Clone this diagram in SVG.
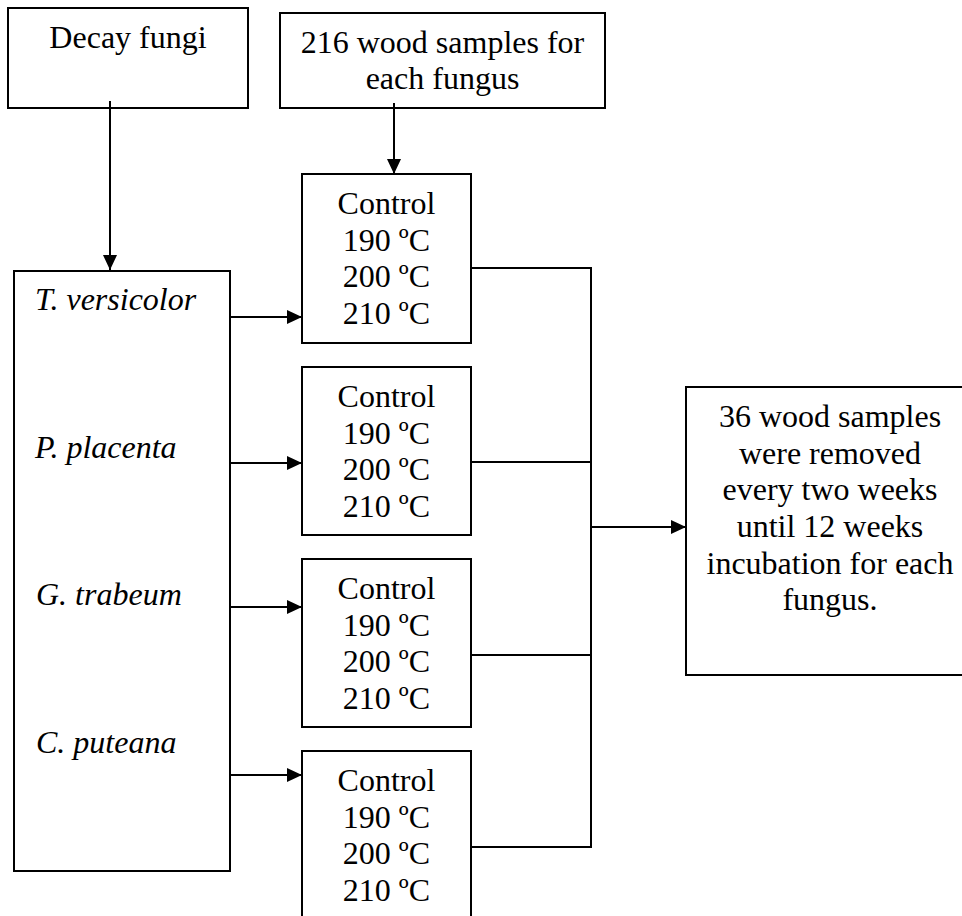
<svg xmlns="http://www.w3.org/2000/svg" width="962" height="916" viewBox="0 0 962 916">
<style>
.box{fill:#fff;stroke:#000;stroke-width:2}
.t{font-family:"Liberation Serif","Times New Roman",serif;font-size:32px;fill:#000}
.c{text-anchor:middle}
.i{font-style:italic}
.ln{fill:none;stroke:#000;stroke-width:2}
</style>
<defs>
<marker id="ah" markerWidth="15" markerHeight="14" refX="15" refY="7" orient="auto" markerUnits="userSpaceOnUse">
<path d="M0,0 L15,7 L0,14 Z" fill="#000"/>
</marker>
</defs>
<rect width="962" height="916" fill="#fff"/>
<g id="decay">
<rect class="box" x="8" y="8" width="240" height="100"/>
<text class="t c" x="128" y="48">Decay fungi</text>
</g>
<g id="samples">
<rect class="box" x="280" y="13" width="325" height="95"/>
<text class="t c" x="442.5" y="53">216 wood samples for</text>
<text class="t c" x="442.5" y="89">each fungus</text>
</g>
<g id="fungi">
<rect class="box" x="14" y="271" width="216" height="600"/>
<text class="t i" x="35" y="310">T. versicolor</text>
<text class="t i" x="35" y="458">P. placenta</text>
<text class="t i" x="36" y="605">G. trabeum</text>
<text class="t i" x="36" y="753">C. puteana</text>
</g>
<g id="temp1">
<rect class="box" x="302" y="174" width="169" height="169"/>
<text class="t c" x="386.5" y="214">Control</text>
<text class="t c" x="386.5" y="251">190 ºC</text>
<text class="t c" x="386.5" y="287">200 ºC</text>
<text class="t c" x="386.5" y="324">210 ºC</text>
</g>
<g id="temp2">
<rect class="box" x="302" y="367" width="169" height="168"/>
<text class="t c" x="386.5" y="407">Control</text>
<text class="t c" x="386.5" y="444">190 ºC</text>
<text class="t c" x="386.5" y="480">200 ºC</text>
<text class="t c" x="386.5" y="517">210 ºC</text>
</g>
<g id="temp3">
<rect class="box" x="302" y="559" width="169" height="168"/>
<text class="t c" x="386.5" y="599">Control</text>
<text class="t c" x="386.5" y="636">190 ºC</text>
<text class="t c" x="386.5" y="672">200 ºC</text>
<text class="t c" x="386.5" y="709">210 ºC</text>
</g>
<g id="temp4">
<rect class="box" x="302" y="751" width="169" height="190"/>
<text class="t c" x="386.5" y="791">Control</text>
<text class="t c" x="386.5" y="828">190 ºC</text>
<text class="t c" x="386.5" y="864">200 ºC</text>
<text class="t c" x="386.5" y="901">210 ºC</text>
</g>
<g id="result">
<rect class="box" x="686" y="387" width="300" height="288"/>
<text class="t c" x="830" y="427">36 wood samples</text>
<text class="t c" x="830" y="464">were removed</text>
<text class="t c" x="830" y="500">every two weeks</text>
<text class="t c" x="830" y="537">until 12 weeks</text>
<text class="t c" x="830" y="574">incubation for each</text>
<text class="t c" x="830" y="610">fungus.</text>
</g>
<g id="connectors">
<line class="ln" x1="110" y1="101" x2="110" y2="270" marker-end="url(#ah)"/>
<line class="ln" x1="394" y1="103" x2="394" y2="174" marker-end="url(#ah)"/>
<line class="ln" x1="230" y1="317" x2="302" y2="317" marker-end="url(#ah)"/>
<line class="ln" x1="230" y1="463" x2="302" y2="463" marker-end="url(#ah)"/>
<line class="ln" x1="230" y1="607" x2="302" y2="607" marker-end="url(#ah)"/>
<line class="ln" x1="230" y1="775" x2="302" y2="775" marker-end="url(#ah)"/>
<polyline class="ln" points="471,268 591,268 591,847 471,847"/>
<line class="ln" x1="471" y1="462" x2="591" y2="462"/>
<line class="ln" x1="471" y1="655" x2="591" y2="655"/>
<line class="ln" x1="591" y1="527" x2="686" y2="527" marker-end="url(#ah)"/>
</g>
</svg>
